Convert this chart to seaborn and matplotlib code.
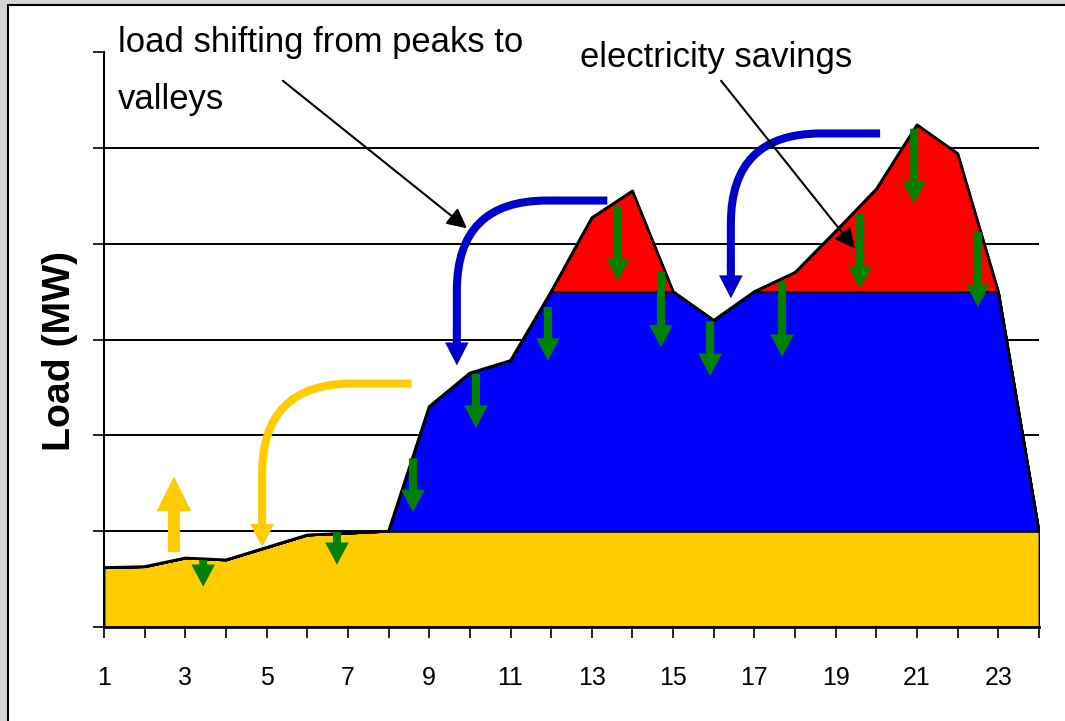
import matplotlib
matplotlib.use("Agg")
import matplotlib.pyplot as plt
from matplotlib import font_manager
from matplotlib.patches import Rectangle, FancyArrowPatch
import seaborn as sns
import pandas as pd

# hourly load (y axis in grid units)
hours = list(range(1, 25))
base_load = [0.62, 0.63, 0.72, 0.70, 0.83, 0.96, 0.98, 1.0, 1.0, 1.0, 1.0, 1.0,
             1.0, 1.0, 1.0, 1.0, 1.0, 1.0, 1.0, 1.0, 1.0, 1.0, 1.0, 1.0]
shoulder_top = [0.62, 0.63, 0.72, 0.70, 0.83, 0.96, 0.98, 1.0, 2.30, 2.65, 2.78, 3.5,
                3.5, 3.5, 3.5, 3.2, 3.5, 3.5, 3.5, 3.5, 3.5, 3.5, 3.5, 1.0]
total_load = [0.62, 0.63, 0.72, 0.70, 0.83, 0.96, 0.98, 1.0, 2.30, 2.65, 2.78, 3.5,
              4.27, 4.55, 3.5, 3.2, 3.5, 3.70, 4.13, 4.57, 5.24, 4.94, 3.5, 1.0]

# green "savings" arrows: x, from, to
green_x = [3.44, 6.73, 8.60, 10.15, 11.92, 13.64, 14.70, 15.91, 17.68, 19.60, 20.93, 22.50]
green_from = [0.70, 0.99, 1.76, 2.64, 3.34, 4.39, 3.71, 3.19, 3.60, 4.31, 5.20, 4.12]
green_to = [0.42, 0.65, 1.20, 2.08, 2.78, 3.61, 2.92, 2.62, 2.82, 3.53, 4.42, 3.34]

# curved load-shifting arrows: start x, start y, drop x, tip y, colour
shift_arrows = [
    (8.63, 2.54, 4.89, 0.835, "#FFCC00"),
    (13.45, 4.45, 9.68, 2.73, "#0000CC"),
    (20.16, 5.15, 16.42, 3.43, "#0000CC"),
]

# callouts: text, text x, baseline y of last line, arrow start, arrow tip
callouts = [
    ("load shifting from peaks to\nvalleys", 1.34, 5.40, (5.40, 5.70), (9.93, 4.16)),
    ("electricity savings", 12.71, 5.84, (16.18, 5.70), (19.47, 3.95)),
]

YELLOW, BLUE, RED, GREEN = "#FFCC00", "#0000FF", "#FF0000", "#008000"

sns.set_style("ticks", {"text.color": "black", "xtick.color": "black",
                        "ytick.color": "black", "axes.labelcolor": "black",
                        "axes.edgecolor": "black"})
names = {f.name for f in font_manager.fontManager.ttflist}
narrow = "Liberation Sans Narrow" in names
family = "Liberation Sans Narrow" if narrow else "Liberation Sans"
k = 1.0 if narrow else 0.83
plt.rcParams["font.family"] = [family, "DejaVu Sans"]

fig = plt.figure(figsize=(10.65, 7.21), dpi=100, facecolor="#D4D6D2")
fig.patches.append(Rectangle((8 / 1065, -0.02), 1.0, 1.02 - 5 / 721, transform=fig.transFigure,
                             facecolor="white", edgecolor="black", lw=1.5, zorder=-1))
ax = fig.add_axes([104 / 1065, 94 / 721, 935 / 1065, 575 / 721])
ax.set_facecolor("white")

df = pd.DataFrame({"hour": hours, "base": base_load, "mid": shoulder_top, "total": total_load})

ax.fill_between(df["hour"], 0, df["base"], facecolor=YELLOW, edgecolor="black", lw=1.3, zorder=2)
ax.fill_between(df["hour"], df["base"], df["mid"], facecolor=BLUE, edgecolor="black", lw=1.3, zorder=2)
ax.fill_between(df["hour"], df["mid"], df["total"], facecolor=RED, edgecolor="black", lw=1.3, zorder=2)
sns.lineplot(data=df, x="hour", y="total", color="black", lw=2, ax=ax, zorder=3)

# green arrows
for x, y0, y1 in zip(green_x, green_from, green_to):
    ax.annotate("", xy=(x, y1), xytext=(x, y0), annotation_clip=False,
                arrowprops=dict(arrowstyle="simple,head_length=16,head_width=17,tail_width=5.8",
                                mutation_scale=1, fc=GREEN, ec="none", shrinkA=0, shrinkB=0),
                zorder=5)

# yellow up arrow
ax.annotate("", xy=(2.72, 1.57), xytext=(2.72, 0.78),
            arrowprops=dict(arrowstyle="simple,head_length=25,head_width=25,tail_width=8.6",
                            mutation_scale=1, fc=YELLOW, ec="none", shrinkA=0, shrinkB=0),
            zorder=5)

# curved shifting arrows
for sx, sy, cx, ty, col in shift_arrows:
    shaft = FancyArrowPatch((sx, sy), (cx, ty + 0.30), arrowstyle="-",
                            connectionstyle="angle,angleA=0,angleB=90,rad=90",
                            color=col, lw=5.8, capstyle="butt", zorder=5)
    ax.add_patch(shaft)
    ax.annotate("", xy=(cx, ty), xytext=(cx, ty + 0.35),
                arrowprops=dict(arrowstyle="simple,head_length=16.5,head_width=17,tail_width=5.8",
                                mutation_scale=1, fc=col, ec="none", shrinkA=0, shrinkB=0),
                zorder=5)

# text callouts with black pointers
for label, tx, ty, start, tip in callouts:
    ax.text(tx, ty, label, fontsize=30 * k, ha="left", va="baseline",
            linespacing=1.95, color="black", zorder=6)
    ax.annotate("", xy=tip, xytext=start, annotation_clip=False,
                arrowprops=dict(arrowstyle="-|>,head_length=0.6,head_width=0.3", mutation_scale=20,
                                color="black", lw=1.5, shrinkA=0, shrinkB=0), zorder=6)

ax.set_xlim(1, 24)
ax.set_ylim(0, 6)
ax.set_xticks(hours)
ax.set_xticklabels([str(h) if h % 2 else "" for h in hours], fontsize=18)
ax.set_yticks(range(0, 7))
ax.set_yticklabels([])
ax.tick_params(axis="both", direction="out", length=8, width=1.2, color="black")
ax.tick_params(axis="x", pad=20)
ax.set_xlabel("")
ax.set_ylabel("Load (MW)", fontsize=34 * k, fontweight="bold", va="center")
ax.yaxis.set_label_coords(-0.047, 0.48)

ax.grid(axis="y", color="black", lw=1.4)
ax.set_axisbelow(True)
ax.get_ygridlines()[-1].set_visible(False)
sns.despine(ax=ax, top=True, right=True)
ax.spines["left"].set_linewidth(1.5)
ax.spines["bottom"].set_linewidth(2)

fig.savefig("out.png", dpi=100, facecolor=fig.get_facecolor())
